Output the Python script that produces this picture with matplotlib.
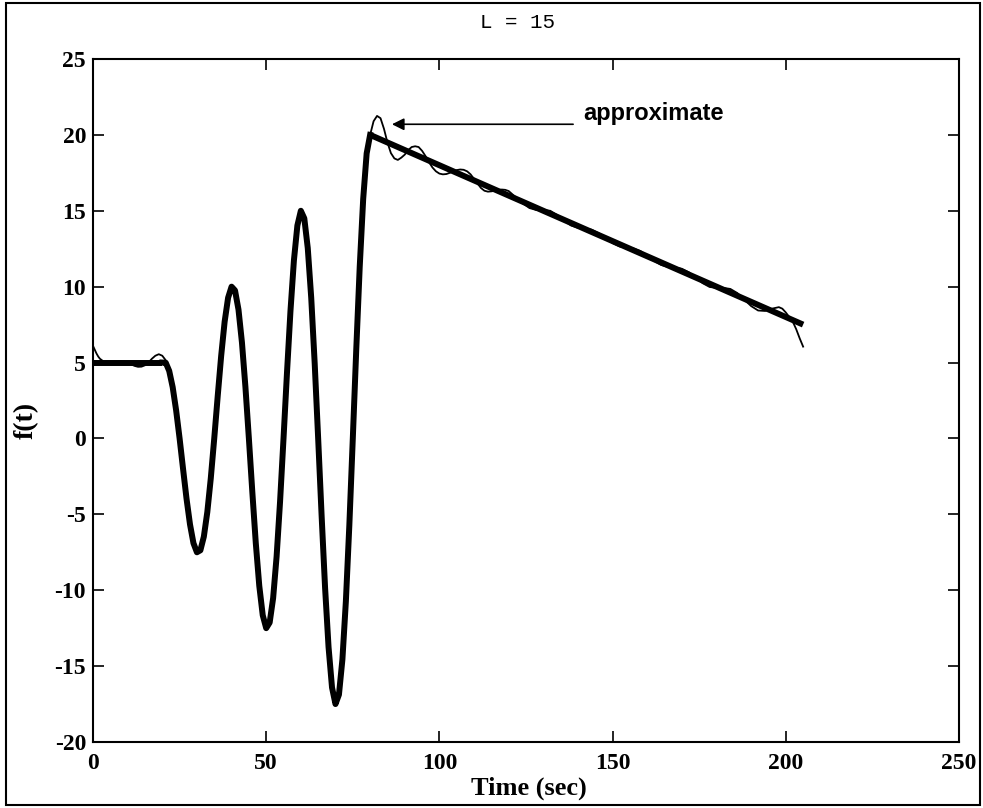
import matplotlib
matplotlib.use('Agg')
from matplotlib import pyplot as plt
from matplotlib.patches import Rectangle

plt.rcParams['axes.unicode_minus'] = False

# exact signal: flat part, oscillation, linear decay
flat_t = [0, 20]
flat_f = [5, 5]

osc_t = list(range(20, 81))
osc_f = [5.00, 4.99, 4.45, 3.38, 1.85, 0.00, -2.01, -3.97, -5.66, -6.90,
         -7.50, -7.37, -6.47, -4.85, -2.63, 0.00, 2.78, 5.44, 7.69, 9.27,
         10.00, 9.75, 8.49, 6.32, 3.40, 0.00, -3.55, -6.91, -9.71, -11.65,
         -12.50, -12.13, -10.52, -7.79, -4.17, 0.00, 4.33, 8.38, 11.73, 14.03,
         15.00, 14.50, 12.54, 9.26, 4.94, 0.00, -5.10, -9.85, -13.75, -16.41,
         -17.50, -16.88, -14.56, -10.73, -5.72, 0.00, 5.87, 11.32, 15.78, 18.78,
         20.00]

ramp_t = [80, 205]
ramp_f = [20, 7.5]

# approximation (thin line), start and end parts
approx_head_t = [0, 0.5, 1, 1.5, 2, 3, 4, 5, 6, 7, 8, 9, 10, 11, 12, 13, 14,
                 15, 16, 17, 18, 19, 20, 21, 22]
approx_head_f = [6.1, 5.85, 5.6, 5.4, 5.25, 5.08, 5.0, 4.98, 5.0, 5.05, 5.08,
                 5.07, 5.0, 4.88, 4.78, 4.72, 4.73, 4.82, 5.0, 5.25, 5.45,
                 5.55, 5.45, 5.15, 4.55]

approx_tail_t = [77, 78, 79, 80, 81, 82, 83, 84, 85, 86, 87, 88, 89, 90, 91,
                 92, 93, 94, 95, 96, 97, 98, 99, 100, 101, 102, 103, 104, 105,
                 106, 107, 108, 109, 110, 111, 112, 113, 114, 115, 116, 117,
                 118, 119, 120, 122, 124, 126, 128, 130, 132, 134, 136, 138,
                 140, 142, 144, 146, 148, 150, 152, 154, 156, 158, 160, 162,
                 164, 166, 168, 170, 172, 174, 176, 178, 180, 182, 184, 186,
                 188, 190, 192, 194, 196, 198, 199, 200, 201, 202, 203, 204, 205]
approx_tail_f = [11.3, 15.6, 18.6, 20.0, 20.9, 21.25, 21.1, 20.4, 19.5, 18.8,
                 18.45, 18.35, 18.5, 18.7, 19.0, 19.2, 19.25, 19.2, 18.95, 18.6,
                 18.2, 17.85, 17.6, 17.45, 17.4, 17.42, 17.5, 17.6, 17.68,
                 17.72, 17.7, 17.6, 17.4, 17.1, 16.8, 16.5, 16.32, 16.26, 16.28,
                 16.32, 16.37, 16.4, 16.38, 16.3, 15.9, 15.5, 15.18, 15.05,
                 15.05, 15.0, 14.72, 14.35, 14.03, 13.88, 13.85, 13.75, 13.52,
                 13.2, 12.87, 12.65, 12.57, 12.52, 12.35, 12.05, 11.7, 11.43,
                 11.3, 11.27, 11.18, 10.95, 10.6, 10.23, 9.98, 9.92, 9.92, 9.85,
                 9.58, 9.15, 8.72, 8.43, 8.4, 8.55, 8.65, 8.55, 8.3, 8.0, 7.7,
                 7.2, 6.6, 6.05]

x_ticks = [0, 50, 100, 150, 200, 250]
y_ticks = [-20, -15, -10, -5, 0, 5, 10, 15, 20, 25]

serif = 'Liberation Serif'

fig = plt.figure(figsize=(9.83, 8.08), dpi=100)
ax = fig.add_axes([93 / 983, 1 - 742 / 808, 866 / 983, 683 / 808])

# thin approximation: its own head and tail, middle follows the oscillation
mid_t = [t for t in osc_t if 22 < t < 77]
mid_f = [f for t, f in zip(osc_t, osc_f) if 22 < t < 77]
approx_t = approx_head_t + mid_t + approx_tail_t
approx_f = approx_head_f + mid_f + approx_tail_f
ax.plot(approx_t, approx_f, color='black', lw=1.3)

# thick exact curve
ax.plot(flat_t, flat_f, color='black', lw=4.3, solid_capstyle='butt')
ax.plot(osc_t, osc_f, color='black', lw=4.3, solid_joinstyle='round')
ax.plot(ramp_t, ramp_f, color='black', lw=4.3, solid_capstyle='butt')

ax.set_xlim(0, 250)
ax.set_ylim(-20, 25)
ax.set_xticks(x_ticks)
ax.set_yticks(y_ticks)
ax.tick_params(direction='in', length=8, width=1.2, top=True, right=True,
               labelsize=17)
ax.tick_params(axis='x', pad=8)
ax.tick_params(axis='y', pad=5)
for lab in ax.get_xticklabels() + ax.get_yticklabels():
    lab.set_fontfamily(serif)
    lab.set_fontweight('bold')
for sp in ax.spines.values():
    sp.set_linewidth(1.5)

ax.annotate('', xy=(86.3, 20.7), xytext=(138.6, 20.7),
            arrowprops=dict(arrowstyle='-|>', color='black', lw=1.2,
                            mutation_scale=18, shrinkA=0, shrinkB=0))
ax.text(141.5, 21.4, 'approximate', fontsize=17, fontweight='bold',
        family='Liberation Sans', va='center', ha='left')

fig.text(517 / 983, 1 - 22 / 808, 'L = 15', family='Liberation Mono',
         fontsize=15, ha='center', va='center')
fig.text(529 / 983, 1 - 788 / 808, 'Time (sec)', family=serif,
         fontweight='bold', fontsize=19, ha='center', va='center')
fig.text(26 / 983, 1 - 420 / 808, 'f(t)', family=serif, fontweight='bold',
         fontsize=20, ha='center', va='center', rotation=90)

# border around the whole figure
fig.patches.append(Rectangle((6 / 983, 3 / 808), 974 / 983, 802 / 808,
                             transform=fig.transFigure, fill=False,
                             edgecolor='black', lw=1.5))

fig.savefig('out.png', dpi=100)
